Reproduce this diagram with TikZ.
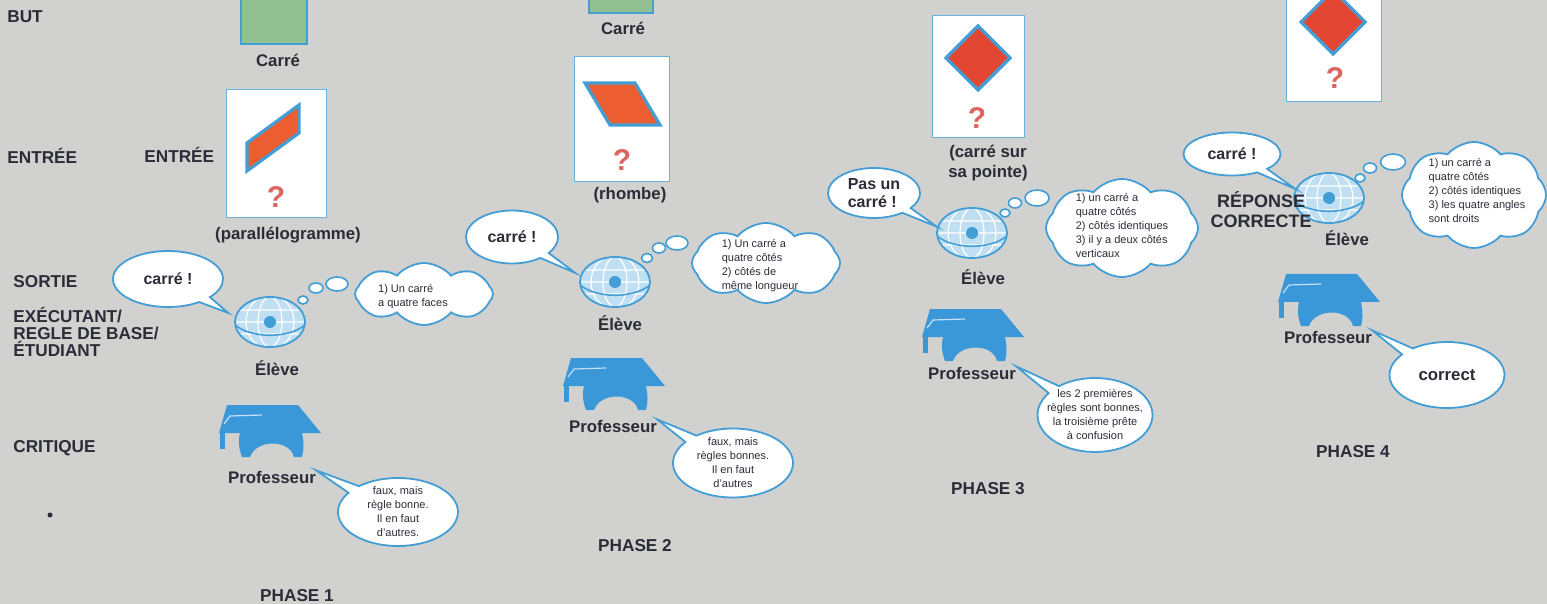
\documentclass[tikz,border=0pt]{standalone}
\usepackage{fontspec}
\setmainfont{Liberation Sans}
\usetikzlibrary{shapes.geometric,shapes.callouts,shapes.symbols}

\definecolor{fond}{RGB}{209,209,207}
\definecolor{bleu}{RGB}{68,158,214}
\definecolor{bleuclair}{RGB}{192,223,242}
\definecolor{chapeau}{RGB}{58,152,216}
\definecolor{vert}{RGB}{146,192,146}
\definecolor{brique}{RGB}{236,94,50}
\definecolor{rouge}{RGB}{228,70,52}
\definecolor{rose}{RGB}{222,100,95}
\definecolor{encre}{RGB}{44,44,56}

\tikzset{
        rubrique/.style={font=\fontsize{8.6}{10}\selectfont\bfseries, text=encre, inner sep=0pt, align=left, anchor=west},
        legende/.style={font=\fontsize{8.4}{10}\selectfont\bfseries, text=encre, inner sep=0pt, align=center},
        petit/.style={font=\fontsize{5.5}{7}\selectfont, text=encre, inner sep=0pt, align=left},
        but/.style={draw=bleu, fill=vert, line width=0.6pt, inner sep=0pt},
        carte/.style={draw=bleu!80, fill=white, line width=0.5pt, inner sep=0pt},
        forme/.style={draw=bleu, line width=1.6pt},
        quest/.style={font=\fontsize{15}{15}\selectfont\bfseries, text=rose, inner sep=0pt},
        bulle/.style={ellipse callout, draw=bleu, fill=white, line width=0.9pt, inner sep=0pt, font=\fontsize{8}{9}\selectfont\bfseries, text=encre, align=left},
        reponse/.style={ellipse callout, draw=bleu, fill=white, line width=0.9pt, inner sep=0pt},
        nuage/.style={cloud, cloud puffs=8, cloud puff arc=100, cloud ignores aspect, draw=bleu, fill=white, line width=0.9pt, inner sep=0pt},
        rond/.style={ellipse, draw=bleu, fill=white, line width=0.8pt, inner sep=0pt},
        eleve/.style={ellipse, draw=bleu, fill=bleuclair, line width=0.9pt, minimum width=35pt, minimum height=25pt, inner sep=0pt,
            path picture={\begin{scope}[shift={(path picture bounding box.center)}]
                \draw[white, line width=0.6pt] (0,0) ellipse (12 and 25) (0,0) ellipse (24 and 27)
                    (-40,-12) -- (40,-12) (-40,0) -- (40,0) (-40,12) -- (40,12);
                \draw[bleu, line width=0.8pt] (-36,2) .. controls (-20,17) and (20,17) .. (36,2);
                \fill[bleu] (0,0) circle (6);
            \end{scope}}},
        pics/toque/.style={code={
            \fill[chapeau] (-43,-28) -- (28,-28) -- (51,0) -- (-51,0) -- cycle;
            \fill[chapeau] (-30,0) -- (32,0) .. controls (34,9) and (34,17) .. (32,24) -- (24,24)
                .. controls (20,6) and (-14,6) .. (-20,24) -- (-28,24) .. controls (-31,16) and (-32,8) .. (-30,0) -- cycle;
            \fill[chapeau] (-50,0) rectangle (-45,16);
            \draw[white!70!chapeau, line width=0.6pt] (-46,-9) -- (-40,-17) -- (-8,-18);
        }},
}

\begin{document}
\begin{tikzpicture}[x=0.5pt, y=-0.5pt]
        \useasboundingbox (0,0) rectangle (1547,604);
        \fill[fond] (0,0) rectangle (1547,604);
        %\draw[help lines] (0,0) grid[step=50] (1547,604);

        % rubriques
        \node[rubrique] (but) at (7,17) {BUT};
        \node[rubrique] (entree) at (7,156) {ENTRÉE};
        \node[rubrique] (sortie) at (13,282) {SORTIE};
        \node[rubrique, font=\fontsize{8.6}{8.5}\selectfont\bfseries] (executant) at (13,332) {EXÉCUTANT/\\REGLE DE BASE/\\ÉTUDIANT};
        \node[rubrique] (critique) at (13,448) {CRITIQUE};
        \fill[encre] (50,515) circle (2.5);

        % phase 1
        \node[but, minimum size=33pt] (but1) at (274,11) {};
        \node[legende] (carre1) at (278,60) {Carré};
        \node[rubrique] (entree1) at (144,155) {ENTRÉE};
        \node[carte, minimum width=50pt, minimum height=64pt] (carte1) at (276,154) {};
        \filldraw[forme, fill=brique] (247,143) -- (299,105) -- (299,133) -- (247,171) -- cycle;
        \node[quest] (q1) at (276,197) {?};
        \node[legende] (nom1) at (288,235) {(parallélogramme)};
        \node[eleve] (g1) at (270,322) {};
        \node[legende] (el1) at (277,368) {Élève};
        \node[bulle, minimum width=55pt, minimum height=28pt, callout absolute pointer={([xshift=-4pt]g1.165)}] (dit1) at (168,279) {carré !};
        \node[rond, minimum width=5pt, minimum height=4pt] (t11) at (303,300) {};
        \node[rond, minimum width=7pt, minimum height=5pt] (t12) at (316,288) {};
        \node[rond, minimum width=11pt, minimum height=7pt] (t13) at (337,284) {};
        \node[nuage, minimum width=69pt, minimum height=31pt] (n1) at (424,294) {};
        \node[petit] at (413,297) {1) Un carré\\a quatre faces};
        \pic at (270,433) {toque};
        \node[legende] (pr1) at (272,477) {Professeur};
        \node[reponse, minimum width=60pt, minimum height=34pt, callout absolute pointer={(pr1.north east)}] (rep1) at (398,512) {};
        \node[petit, align=center] at (rep1.center) {faux, mais\\règle bonne.\\Il en faut\\d'autres.};
        \node[rubrique, anchor=center] (ph1) at (297,596) {PHASE 1};

        % phase 2
        \node[but, minimum size=32pt] (but2) at (621,-19) {};
        \node[legende] (carre2) at (623,28) {Carré};
        \node[carte, minimum width=47.5pt, minimum height=62.5pt] (carte2) at (622,119) {};
        \filldraw[forme, fill=brique] (585,83) -- (635,83) -- (660,125) -- (610,125) -- cycle;
        \node[quest] (q2) at (622,160) {?};
        \node[legende] (nom2) at (630,195) {(rhombe)};
        \node[eleve] (g2) at (615,282) {};
        \node[legende] (el2) at (620,323) {Élève};
        \node[bulle, minimum width=46pt, minimum height=26.5pt, callout absolute pointer={([xshift=-3pt]g2.165)}] (dit2) at (512,237) {carré !};
        \node[rond, minimum width=5.5pt, minimum height=4.5pt] (t21) at (647,258) {};
        \node[rond, minimum width=6.5pt, minimum height=5pt] (t22) at (659,248) {};
        \node[rond, minimum width=11pt, minimum height=7pt] (t23) at (677,243) {};
        \node[nuage, minimum width=74pt, minimum height=40pt] (n2) at (766,263) {};
        \node[petit] at (760,266) {1) Un carré a\\quatre côtés\\2) côtés de\\même longueur};
        \pic at (614,386) {toque};
        \node[legende] (pr2) at (613,426) {Professeur};
        \node[reponse, minimum width=60pt, minimum height=34.5pt, callout absolute pointer={(pr2.north east)}] (rep2) at (733,463) {};
        \node[petit, align=center] at (rep2.center) {faux, mais\\règles bonnes.\\Il en faut\\d'autres};
        \node[rubrique, anchor=center] (ph2) at (635,546) {PHASE 2};

        % phase 3
        \node[carte, minimum width=46pt, minimum height=61pt] (carte3) at (978,77) {};
        \filldraw[forme, fill=rouge] (978,26) -- (1010,58) -- (978,90) -- (946,58) -- cycle;
        \node[quest] (q3) at (977,118) {?};
        \node[legende] (nom3) at (988,163) {(carré sur\\sa pointe)};
        \node[eleve] (g3) at (972,233) {};
        \node[legende] (el3) at (983,277) {Élève};
        \node[bulle, minimum width=46pt, minimum height=25pt, callout absolute pointer={(g3.170)}] (dit3) at (874,193) {Pas un\\carré !};
        \node[rond, minimum width=5pt, minimum height=4pt] (t31) at (1005,213) {};
        \node[rond, minimum width=6.5pt, minimum height=5pt] (t32) at (1015,203) {};
        \node[rond, minimum width=12pt, minimum height=8pt] (t33) at (1037,198) {};
        \node[nuage, minimum width=76pt, minimum height=49pt] (n3) at (1122,228) {};
        \node[petit] at (1122,226) {1) un carré a\\quatre côtés\\2) côtés identiques\\3) il y a deux côtés\\verticaux};
        \pic at (973,337) {toque};
        \node[legende] (pr3) at (972,373) {Professeur};
        \node[reponse, minimum width=57.5pt, minimum height=37pt, callout absolute pointer={(pr3.north east)}] (rep3) at (1095,415) {};
        \node[petit, align=center] at (rep3.center) {les 2 premières\\règles sont bonnes,\\la troisième prête\\à confusion};
        \node[rubrique, anchor=center] (ph3) at (988,489) {PHASE 3};

        % phase 4
        \node[carte, minimum width=47.5pt, minimum height=62pt] (carte4) at (1334,40) {};
        \filldraw[forme, fill=rouge] (1333,-10) -- (1365,22) -- (1333,54) -- (1301,22) -- cycle;
        \node[quest] (q4) at (1335,78) {?};
        \node[eleve] (g4) at (1329,198) {};
        \node[legende] (el4) at (1347,238) {Élève};
        \node[bulle, minimum width=48.5pt, minimum height=21.5pt, callout absolute pointer={(g4.165)}] (dit4) at (1232,154) {carré !};
        \node[rubrique, anchor=center, align=center, font=\fontsize{9}{10}\selectfont\bfseries] (correcte) at (1261,210) {RÉPONSE\\CORRECTE};
        \node[rond, minimum width=5pt, minimum height=4pt] (t41) at (1360,178) {};
        \node[rond, minimum width=6.5pt, minimum height=5pt] (t42) at (1370,168) {};
        \node[rond, minimum width=12.5pt, minimum height=8pt] (t43) at (1393,162) {};
        \node[nuage, minimum width=72pt, minimum height=53pt] (n4) at (1474,195) {};
        \node[petit] at (1477,191) {1) un carré a\\quatre côtés\\2) côtés identiques\\3) les quatre angles\\sont droits};
        \pic at (1329,302) {toque};
        \node[legende] (pr4) at (1328,337) {Professeur};
        \node[reponse, minimum width=57.5pt, minimum height=33pt, callout absolute pointer={(pr4.north east)}] (rep4) at (1447,375) {};
        \node[legende] at (rep4.center) {correct};
        \node[rubrique, anchor=center] (ph4) at (1353,452) {PHASE 4};
\end{tikzpicture}
\end{document}
